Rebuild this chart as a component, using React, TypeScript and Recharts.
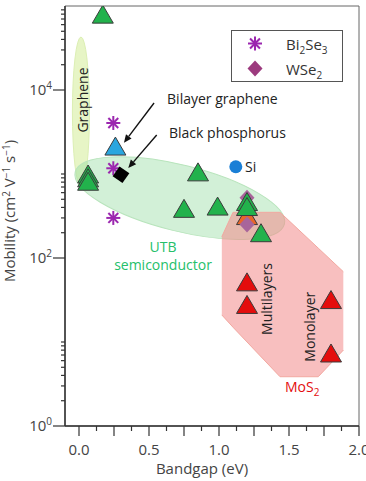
import React from "react";
import {
  ComposedChart,
  XAxis,
  YAxis,
  Scatter,
  Area,
  ReferenceArea,
  ReferenceLine,
  ReferenceDot,
  Legend,
} from "recharts";

const FONT = "'Open Sans', sans-serif";
const PURPLE = "#9b27af";
const GREEN = "#22b24c";
const RED = "#e40d0d";

// bandgap (eV) vs mobility (cm^2 V^-1 s^-1)
const utbSemiconductors = [
  { x: 0.17, y: 80000 },
  { x: 0.065, y: 1000 },
  { x: 0.065, y: 900 },
  { x: 0.065, y: 820 },
  { x: 0.85, y: 1060 },
  { x: 0.75, y: 390 },
  { x: 0.99, y: 415 },
  { x: 1.2, y: 470 },
  { x: 1.2, y: 410 },
  { x: 1.3, y: 200 },
];
const bilayerGraphene = [{ x: 0.26, y: 2150 }];
const blackPhosphorus = [{ x: 0.3, y: 980 }];
const bi2se3 = [
  { x: 0.245, y: 4050 },
  { x: 0.245, y: 1170 },
  { x: 0.245, y: 300 },
];
const wse2 = [
  { x: 1.2, y: 520 },
  { x: 1.2, y: 250 },
];
const otherTmd = [{ x: 1.2, y: 320 }];
const silicon = [{ x: 1.12, y: 1220 }];
const mos2 = [
  { x: 1.2, y: 52 },
  { x: 1.2, y: 28 },
  { x: 1.8, y: 32 },
  { x: 1.8, y: 7.4 },
];

// MoS2 region outline: lower / upper mobility bound at each bandgap
const mos2Region = [
  { x: 1.02, low: 21, high: 179 },
  { x: 1.1, low: 15, high: 350 },
  { x: 1.436, low: 3.86, high: 350 },
  { x: 1.709, low: 3.86, high: 131 },
  { x: 1.888, low: 8, high: 68.7 },
];
const grapheneZone = { x1: -0.047, x2: 0.075, y1: 700, y2: 42750 };
const utbZone = { x1: -0.05, x2: 1.49, y1: 209, y2: 1280 };

const xTicks = [
  0, 0.125, 0.25, 0.375, 0.5, 0.625, 0.75, 0.875, 1, 1.125, 1.25, 1.375, 1.5,
  1.625, 1.75, 1.875, 2,
];
const xLabels = [0, 0.5, 1, 1.5, 2];
const yTicks = [
  1, 2, 3, 4, 5, 6, 7, 8, 9, 10, 100, 200, 300, 400, 500, 600, 700, 800, 900,
  1000, 10000, 20000, 30000, 40000, 50000, 60000, 70000, 80000, 90000,
];
const yLabels = [1, 100, 10000];

const triangle = (fill: string) => (p: any) => {
  const { cx, cy } = p;
  return (
    <polygon
      points={`${cx},${cy - 9} ${cx + 10.5},${cy + 9} ${cx - 10.5},${cy + 9}`}
      fill={fill}
      stroke="#3b3b3b"
      strokeWidth={1}
    />
  );
};

const asterisk = (cx: number, cy: number) => {
  const r = 7;
  const d = r * 0.707;
  return (
    <g stroke={PURPLE} strokeWidth={2}>
      <line x1={cx - r} y1={cy} x2={cx + r} y2={cy} />
      <line x1={cx} y1={cy - r} x2={cx} y2={cy + r} />
      <line x1={cx - d} y1={cy - d} x2={cx + d} y2={cy + d} />
      <line x1={cx - d} y1={cy + d} x2={cx + d} y2={cy - d} />
    </g>
  );
};

const diamond = (cx: number, cy: number, fill: string) => (
  <polygon
    points={`${cx},${cy - 8} ${cx + 7.5},${cy} ${cx},${cy + 8} ${cx - 7.5},${cy}`}
    fill={fill}
  />
);

const ellipseShape = (fill: string, stroke: string, tilt: number) => (p: any) => {
  const { x, y, width, height } = p;
  const cx = x + width / 2;
  const cy = y + height / 2;
  return (
    <ellipse
      cx={cx}
      cy={cy}
      rx={width / 2}
      ry={height / 2}
      fill={fill}
      stroke={stroke}
      transform={`rotate(${tilt} ${cx} ${cy})`}
    />
  );
};

const arrowShape = (p: any) => {
  const { x1, y1, x2, y2 } = p;
  const a = Math.atan2(y2 - y1, x2 - x1);
  const bx = x2 - 8 * Math.cos(a);
  const by = y2 - 8 * Math.sin(a);
  const s = Math.sin(a) * 3.5;
  const c = Math.cos(a) * 3.5;
  return (
    <g>
      <line x1={x1} y1={y1} x2={bx} y2={by} stroke="#111" strokeWidth={1.4} />
      <polygon points={`${x2},${y2} ${bx - s},${by + c} ${bx + s},${by - c}`} fill="#111" />
    </g>
  );
};

const note =
  (content: React.ReactNode, opts: { fill?: string; anchor?: string; rotate?: boolean } = {}) =>
  (p: any) => (
    <text
      x={p.cx}
      y={p.cy}
      fontFamily={FONT}
      fontSize={14}
      fill={opts.fill || "#222"}
      textAnchor={opts.anchor || "start"}
      dominantBaseline={opts.rotate ? "central" : undefined}
      transform={opts.rotate ? `rotate(-90 ${p.cx} ${p.cy})` : undefined}
    >
      {content}
    </text>
  );

const XTick = (props: any) => {
  const { x, y, payload } = props;
  const v = payload.value;
  const long = Math.abs(v * 4 - Math.round(v * 4)) < 1e-6;
  return (
    <g>
      <line x1={x} y1={y} x2={x} y2={y + (long ? 10 : 5)} stroke="#333" strokeWidth={1.2} />
      {xLabels.includes(v) && (
        <text x={x} y={y + 29} textAnchor="middle" fontFamily={FONT} fontSize={15} fill="#444">
          {v.toFixed(1)}
        </text>
      )}
    </g>
  );
};

const YTick = (props: any) => {
  const { x, y, payload } = props;
  const v = payload.value;
  const labeled = yLabels.includes(v);
  return (
    <g>
      <line x1={x} y1={y} x2={x - (labeled ? 12 : 4)} y2={y} stroke="#333" strokeWidth={1.2} />
      {labeled && (
        <text x={x - 13} y={y + 5} textAnchor="end" fontFamily={FONT} fontSize={15} fill="#444">
          10
          <tspan dy={-6} fontSize={10}>
            {Math.round(Math.log10(v))}
          </tspan>
        </text>
      )}
    </g>
  );
};

const YLabel = (props: any) => {
  const { viewBox } = props;
  const cx = viewBox.x + 15;
  const cy = viewBox.y + viewBox.height / 2 - 5;
  return (
    <text
      x={cx}
      y={cy}
      textAnchor="middle"
      transform={`rotate(-90 ${cx} ${cy})`}
      fontFamily={FONT}
      fontSize={15}
      fill="#444"
    >
      Mobility (cm
      <tspan dy={-5} fontSize={10}>2</tspan>
      <tspan dy={5}> V</tspan>
      <tspan dy={-5} fontSize={10}>−1</tspan>
      <tspan dy={5}> s</tspan>
      <tspan dy={-5} fontSize={10}>−1</tspan>
      <tspan dy={5}>)</tspan>
    </text>
  );
};

const XLabel = (props: any) => {
  const { viewBox } = props;
  return (
    <text
      x={viewBox.x + viewBox.width / 2 - 10}
      y={viewBox.y + 48}
      textAnchor="middle"
      fontFamily={FONT}
      fontSize={15}
      fill="#444"
    >
      Bandgap (eV)
    </text>
  );
};

const sub = { fontSize: 10, lineHeight: 0, verticalAlign: "-4px" };

const LegendBox = () => (
  <div
    style={{
      width: 112,
      height: 52,
      border: "1px solid #555",
      boxSizing: "border-box",
      background: "#fff",
      fontFamily: FONT,
      fontSize: 15,
      color: "#333",
    }}
  >
    <div style={{ display: "flex", alignItems: "center", height: 25 }}>
      <svg width={48} height={25}>
        {asterisk(23, 12.5)}
      </svg>
      <span style={{ marginLeft: 6 }}>
        Bi<span style={sub}>2</span>Se<span style={sub}>3</span>
      </span>
    </div>
    <div style={{ display: "flex", alignItems: "center", height: 25 }}>
      <svg width={48} height={25}>
        {diamond(23, 12.5, "#9c3a7e")}
      </svg>
      <span style={{ marginLeft: 6 }}>
        WSe<span style={sub}>2</span>
      </span>
    </div>
  </div>
);

export default function App() {
  return (
    <div style={{ position: "absolute", left: 0, top: 0 }}>
      <ComposedChart
        width={366}
        height={481}
        data={mos2Region}
        margin={{ top: 6, right: 7, bottom: 0, left: 0 }}
      >
        <XAxis
          type="number"
          dataKey="x"
          domain={[-0.1, 2]}
          ticks={xTicks}
          interval={0}
          tick={<XTick />}
          tickLine={false}
          tickSize={0}
          tickMargin={0}
          height={55}
          axisLine={{ stroke: "#333", strokeWidth: 1.5 }}
          allowDataOverflow
          label={<XLabel />}
        />
        <YAxis
          type="number"
          dataKey="y"
          scale="log"
          domain={[1, 100000]}
          ticks={yTicks}
          interval={0}
          tick={<YTick />}
          tickLine={false}
          tickSize={0}
          tickMargin={0}
          width={65}
          axisLine={{ stroke: "#333", strokeWidth: 1.5 }}
          allowDataOverflow
          label={<YLabel />}
        />

        <ReferenceArea x1={-0.1} x2={2} y1={1} y2={100000} fill="none" stroke="#666" ifOverflow="visible" />
        <ReferenceArea
          {...grapheneZone}
          ifOverflow="visible"
          shape={ellipseShape("#e7f5c6", "#dcefb4", 0)}
        />
        <ReferenceArea
          {...utbZone}
          ifOverflow="visible"
          shape={ellipseShape("rgba(143,217,154,0.4)", "#b8e4bc", 14)}
        />
        <Area
          type="linear"
          dataKey={(d: any) => [d.low, d.high]}
          fill="#f28a8a"
          fillOpacity={0.55}
          stroke="#f2a8a0"
          strokeWidth={1}
          isAnimationActive={false}
          activeDot={false}
          dot={false}
        />

        <Scatter data={otherTmd} isAnimationActive={false} shape={triangle("#e8662a")} />
        <Scatter data={wse2} isAnimationActive={false} shape={(p: any) => diamond(p.cx, p.cy, "#a8659a")} />
        <Scatter data={utbSemiconductors} isAnimationActive={false} shape={triangle(GREEN)} />
        <Scatter data={bilayerGraphene} isAnimationActive={false} shape={triangle("#2aa6df")} />
        <Scatter data={mos2} isAnimationActive={false} shape={triangle(RED)} />
        <Scatter data={bi2se3} isAnimationActive={false} shape={(p: any) => asterisk(p.cx, p.cy)} />
        <Scatter
          data={blackPhosphorus}
          isAnimationActive={false}
          shape={(p: any) => (
            <rect
              x={p.cx - 6}
              y={p.cy - 6}
              width={12}
              height={12}
              fill="#000"
              transform={`rotate(35 ${p.cx} ${p.cy})`}
            />
          )}
        />
        <Scatter
          data={silicon}
          isAnimationActive={false}
          shape={(p: any) => <circle cx={p.cx} cy={p.cy} r={6.5} fill="#1a7fd6" />}
        />

        <ReferenceLine segment={[{ x: 0.536, y: 7000 }, { x: 0.321, y: 2360 }]} shape={arrowShape} />
        <ReferenceLine segment={[{ x: 0.555, y: 2910 }, { x: 0.352, y: 1180 }]} shape={arrowShape} />

        <ReferenceDot x={0.026} y={7600} shape={note("Graphene", { anchor: "middle", rotate: true })} />
        <ReferenceDot x={0.629} y={6810} shape={note("Bilayer graphene")} />
        <ReferenceDot x={0.643} y={2685} shape={note("Black phosphorus")} />
        <ReferenceDot x={1.186} y={1056} shape={note("Si")} />
        <ReferenceDot x={0.6} y={118} shape={note("UTB", { fill: "#25c06a", anchor: "middle" })} />
        <ReferenceDot x={0.6} y={72} shape={note("semiconductor", { fill: "#25c06a", anchor: "middle" })} />
        <ReferenceDot x={1.336} y={32.5} shape={note("Multilayers", { anchor: "middle", rotate: true })} />
        <ReferenceDot x={1.643} y={15.2} shape={note("Monolayer", { anchor: "middle", rotate: true })} />
        <ReferenceDot
          x={1.471}
          y={2.54}
          shape={note(
            <>
              MoS<tspan dy={4} fontSize={10}>2</tspan>
            </>,
            { fill: RED }
          )}
        />

        <Legend
          layout="vertical"
          align="center"
          verticalAlign="middle"
          content={<LegendBox />}
          wrapperStyle={{ left: 231, top: 30, width: 112 }}
        />
      </ComposedChart>
    </div>
  );
}
